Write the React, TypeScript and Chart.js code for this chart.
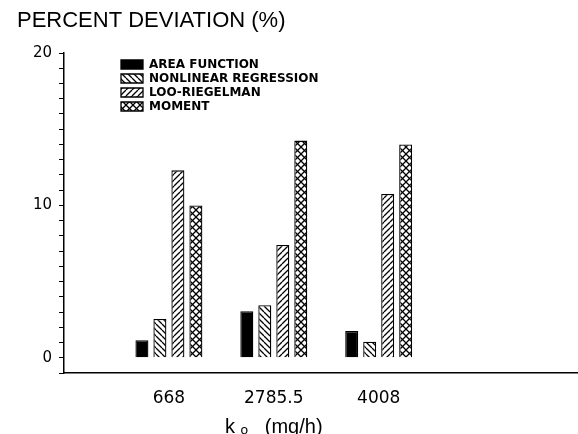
import React, { useEffect, useRef } from 'react';
import { Chart, registerables } from 'chart.js';

Chart.register(...registerables);

const categories = ['668', '2785.5', '4008'];
const seriesNames = ['AREA FUNCTION', 'NONLINEAR REGRESSION', 'LOO-RIEGELMAN', 'MOMENT'];
const areaFunction = [1.15, 3.05, 1.75];
const nonlinearRegression = [2.55, 3.45, 1.05];
const looRiegelman = [12.3, 7.4, 10.75];
const moment = [10.0, 14.25, 14.0];
const yLabeledTicks = [0, 10, 20];
const titleText = 'PERCENT DEVIATION (%)';
const xTitleText = 'k \u2092   (mg/h)';

const FONT = "'Liberation Sans', Arial, sans-serif";
const WIDE = "'DejaVu Sans', sans-serif";

function makePattern(kind: string): CanvasPattern | string {
  if (kind === 'solid') return '#000';
  const s = kind === 'cross' ? 7 : 6;
  const c = document.createElement('canvas');
  c.width = s;
  c.height = s;
  const g = c.getContext('2d')!;
  g.fillStyle = '#fff';
  g.fillRect(0, 0, s, s);
  g.strokeStyle = '#000';
  g.lineWidth = 1.3;
  const back = () => {
    g.beginPath();
    for (const x0 of [-s, 0, s]) {
      g.moveTo(x0, 0);
      g.lineTo(x0 + s, s);
    }
    g.stroke();
  };
  const fwd = () => {
    g.beginPath();
    for (const x0 of [-s, 0, s]) {
      g.moveTo(x0, s);
      g.lineTo(x0 + s, 0);
    }
    g.stroke();
  };
  if (kind === 'back') back();
  if (kind === 'fwd') fwd();
  if (kind === 'cross') {
    back();
    fwd();
  }
  return g.createPattern(c, 'repeat')!;
}

const layoutTweaks = {
  id: 'layoutTweaks',
  afterLayout(chart: any) {
    const l = chart.legend;
    if (l) {
      l.left = chart.chartArea.left + 55;
      l.top = chart.chartArea.top + 3.5;
    }
    const sub = chart.boxes.find((b: any) => b.options && b.options.text === xTitleText);
    if (sub && chart.scales.x) {
      const cx = chart.scales.x.getPixelForValue(2);
      const w = sub.right - sub.left;
      sub.left = cx - w / 2;
      sub.right = cx + w / 2;
    }
  },
};

export default function App() {
  const ref = useRef<HTMLCanvasElement>(null);

  useEffect(() => {
    if (!ref.current) return;
    Chart.defaults.font.family = FONT;
    Chart.defaults.color = '#000';
    const seriesValues = [areaFunction, nonlinearRegression, looRiegelman, moment];
    const kinds = ['solid', 'back', 'fwd', 'cross'];
    const datasets = seriesValues.map((vals, k) => ({
      label: seriesNames[k],
      data: vals.map((v, i) => ({ x: i + 1, y: v })),
      backgroundColor: makePattern(kinds[k]),
      borderColor: '#000',
      borderWidth: 1.3,
      categoryPercentage: 0.686,
      barPercentage: 0.722,
    }));

    const chart = new Chart(ref.current, {
      type: 'bar',
      data: { datasets } as any,
      options: {
        responsive: false,
        animation: false,
        layout: { padding: { left: 17, right: 0, top: 0, bottom: 0 } },
        plugins: {
          title: {
            display: true,
            text: titleText,
            align: 'start',
            color: '#000',
            font: { size: 22, weight: 'normal', family: FONT, lineHeight: 1.2 },
            padding: { top: 8, bottom: 18.6 },
          },
          subtitle: {
            display: true,
            text: xTitleText,
            position: 'bottom',
            color: '#000',
            font: { size: 20, weight: 'normal', family: FONT, lineHeight: 1 },
            padding: { top: 0, bottom: -3 },
          },
          legend: {
            position: 'chartArea' as any,
            align: 'start',
            labels: {
              boxWidth: 22,
              boxHeight: 9,
              padding: 2,
              color: '#000',
              font: { size: 12, weight: 'bold', family: WIDE },
            },
          },
          tooltip: { enabled: false },
        },
        scales: {
          x: {
            type: 'linear',
            offset: false,
            min: 0,
            max: 4.9,
            afterBuildTicks: (s: any) => {
              s.ticks = categories.map((_, i) => ({ value: i + 1 }));
            },
            afterFit: (s: any) => {
              s.height = 44;
            },
            ticks: {
              callback: (v: any) => categories[Number(v) - 1] ?? '',
              padding: 15,
              maxRotation: 0,
              autoSkip: false,
              color: '#000',
              font: { size: 17, family: WIDE },
            },
            grid: { display: false, drawTicks: false },
            border: { display: true, color: '#000', width: 1.5 },
          },
          y: {
            min: -1,
            max: 20,
            afterFit: (s: any) => {
              s.width = 47;
            },
            ticks: {
              stepSize: 1,
              autoSkip: false,
              callback: (v: any) => (yLabeledTicks.includes(Number(v)) ? String(v) : ''),
              padding: 7,
              color: '#000',
              font: { size: 15, family: WIDE },
            },
            grid: {
              drawOnChartArea: false,
              drawTicks: true,
              tickLength: 5,
              color: '#000',
              lineWidth: 1,
            },
            border: { display: true, color: '#000', width: 1.5 },
          },
        },
      } as any,
      plugins: [layoutTweaks],
    });
    return () => chart.destroy();
  }, []);

  return (
    <div style={{ position: 'absolute', left: 0, top: 0, width: 578, height: 434, background: '#fff' }}>
      <canvas ref={ref} width={578} height={434} style={{ display: 'block' }} />
    </div>
  );
}
